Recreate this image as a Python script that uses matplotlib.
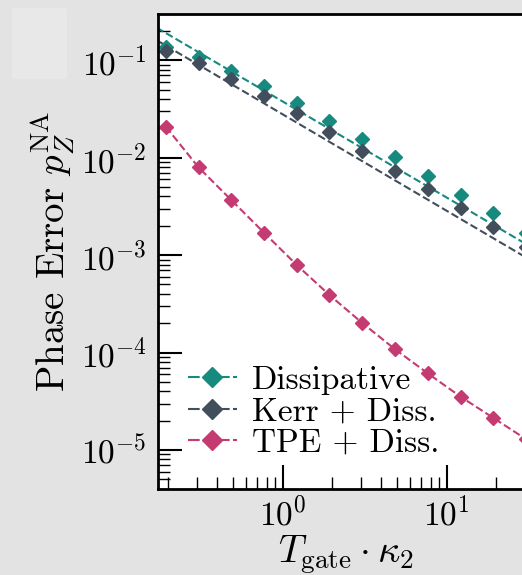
import numpy as np
import matplotlib
matplotlib.use("Agg")
import matplotlib.pyplot as plt
from matplotlib.lines import Line2D
from matplotlib.patches import Rectangle

plt.rcParams['font.family'] = 'serif'
plt.rcParams['font.serif'] = ['cmr10']
plt.rcParams['mathtext.fontset'] = 'cm'
plt.rcParams['axes.formatter.use_mathtext'] = True

# gate times T_gate * kappa_2
t_gate = [0.194, 0.307, 0.486, 0.770, 1.22, 1.93, 3.06, 4.85, 7.68, 12.2, 19.3, 30.5]

# phase error for each scheme
p_diss = [0.138, 0.109, 0.0776, 0.0545, 0.0367, 0.024, 0.01545, 0.0101,
          0.00649, 0.00414, 0.00268, 0.00169]
p_kerr = [0.1256, 0.0945, 0.0647, 0.0430, 0.0286, 0.0185, 0.0118, 0.00736,
          0.00474, 0.00302, 0.00193, 0.00121]
p_tpe = [0.0208, 0.00796, 0.00368, 0.00170, 7.91e-4, 3.89e-4, 2.01e-4,
         1.08e-4, 6.11e-5, 3.51e-5, 2.13e-5, 1.29e-5]

# power law fits  p = A * T^-b
fit_diss = (0.0378, 0.986)
fit_kerr = (0.0279, 0.990)

labels = ['Dissipative', 'Kerr + Diss.', 'TPE + Diss.']
colors = ['#178a80', '#434e5d', '#c43b71']

fig = plt.figure(figsize=(5.22, 5.75), dpi=100, facecolor='#e3e3e3')
fig.patches.append(Rectangle((12 / 522, 1 - 78 / 575), 54 / 522, 70 / 575,
                             transform=fig.transFigure, color='#e8e8e8', zorder=0))
ax = fig.add_axes([158 / 522, 1 - 489 / 575, 376 / 522, 475 / 575])

tt = np.logspace(np.log10(0.17), np.log10(35), 200)
for (a, b), c in zip([fit_diss, fit_kerr], colors[:2]):
    ax.plot(tt, a * tt ** (-b), ls='--', color=c, lw=1.5)

ms = 7.5
ax.plot(t_gate, p_diss, 'D', color=colors[0], ms=ms, ls='none')
ax.plot(t_gate, p_kerr, 'D', color=colors[1], ms=ms, ls='none')
ax.plot(t_gate, p_tpe, 'D', color=colors[2], ms=ms, ls='--', lw=1.5)

ax.set_xscale('log')
ax.set_yscale('log')
ax.set_xlim(0.1737, 34.1)
ax.set_ylim(3.977e-6, 0.2988)

for s in ax.spines.values():
    s.set_linewidth(2)
ax.tick_params(which='both', direction='in', top=False, right=False)
ax.tick_params(which='major', length=17, width=1.5, labelsize=24)
ax.tick_params(axis='y', which='major', pad=8)
ax.tick_params(axis='x', which='major', pad=5)
ax.tick_params(which='minor', length=8.5, width=1)

ax.set_xlabel(r'$T_{\mathrm{gate}}\cdot\kappa_2$', fontsize=28)
ax.set_ylabel(r'Phase Error $p_Z^{\mathrm{NA}}$', fontsize=28)
ax.xaxis.set_label_coords(0.5, -0.095)
ax.yaxis.set_label_coords(-0.215, 0.5)

handles = [Line2D([], [], color=c, ls='--', dashes=(5.6, 1.6), lw=1.5,
                  marker='D', ms=ms) for c in colors]
ax.legend(handles, labels, loc='center left', bbox_to_anchor=(0.079, 0.163),
          frameon=False, fontsize=24, borderpad=0, borderaxespad=0,
          handlelength=1.47, handletextpad=0.45, labelspacing=0.06,
          markerscale=1.3)

fig.savefig('out.png', dpi=100, facecolor=fig.get_facecolor())
